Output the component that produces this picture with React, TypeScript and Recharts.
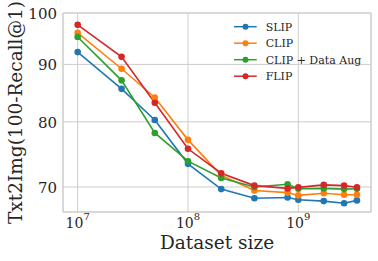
import React from "react";
import { LineChart, Line, XAxis, YAxis, CartesianGrid, ReferenceArea, Label } from "recharts";

const datasetSizes = [1e7, 2.5e7, 5e7, 1e8, 2e8, 4e8, 8e8, 1e9, 1.7e9, 2.6e9, 3.4e9];
const slip = [92.3, 85.6, 80.3, 73.4, 69.7, 68.4, 68.5, 68.2, 68.0, 67.7, 68.1];
const clip = [96.0, 89.2, 84.1, 77.1, 71.7, 69.5, 69.2, 68.8, 69.1, 68.9, 68.9];
const clipAug = [95.2, 87.1, 78.2, 73.8, 71.3, 70.0, 70.4, 69.75, 69.8, 69.7, 69.75];
const flip = [97.6, 91.4, 83.2, 75.7, 72.0, 70.2, 69.8, 69.95, 70.3, 70.2, 69.95];

const xTicks = [1e7, 1e8, 1e9];
const yTicks = [70, 80, 90, 100];
const xDomain = [7.36e6, 4.56e9];
const yDomain = [66.5, 100];

const series = [
  { key: "slip", name: "SLIP", color: "#1f77b4", values: slip },
  { key: "clip", name: "CLIP", color: "#ff7f0e", values: clip },
  { key: "clipAug", name: "CLIP + Data Aug", color: "#2ca02c", values: clipAug },
  { key: "flip", name: "FLIP", color: "#d62728", values: flip },
];

const data = datasetSizes.map((x, i) => {
  const row: any = { x };
  series.forEach((s) => {
    row[s.key] = s.values[i];
  });
  return row;
});

const FONT = "'DejaVu Serif', serif";
const TEXT = "#262626";
const GRID = "#cccccc";

const XTick = (props: any) => {
  const { x, y, payload } = props;
  const exp = Math.round(Math.log10(payload.value));
  return (
    <text x={x} y={y + 16} textAnchor="middle" fontFamily={FONT} fontSize={14} fill={TEXT}>
      <tspan>10</tspan>
      <tspan dy={-8} fontSize={10}>{exp}</tspan>
    </text>
  );
};

const YTick = (props: any) => {
  const { x, y, payload } = props;
  return (
    <text x={x} y={y + 6} textAnchor="end" fontFamily={FONT} fontSize={15} fill={TEXT}>
      {payload.value}
    </text>
  );
};

const LegendBox = () => (
  <svg width={145} height={72} style={{ position: "absolute", left: 228, top: 17, pointerEvents: "none" }}>
    {series.map((s, i) => {
      const cy = 9.7 + 16.5 * i;
      return (
        <g key={s.key}>
          <line x1={6} x2={28.7} y1={cy} y2={cy} stroke={s.color} strokeWidth={1.5} />
          <circle cx={17.5} cy={cy} r={3} fill={s.color} />
          <text x={37.7} y={cy + 4} fontFamily={FONT} fontSize={11} fill={TEXT}>
            {s.name}
          </text>
        </g>
      );
    })}
  </svg>
);

export default function App() {
  return (
    <div style={{ position: "absolute", left: 0, top: 0, width: 378, height: 261, background: "#fff" }}>
      <LineChart width={378} height={261} data={data} margin={{ top: 13, right: 7, bottom: 0, left: 0 }}>
        <CartesianGrid stroke={GRID} strokeWidth={1} />
        <ReferenceArea
          x1={xDomain[0]}
          x2={xDomain[1]}
          y1={yDomain[0]}
          y2={yDomain[1]}
          fill="none"
          stroke={GRID}
          strokeWidth={1}
          ifOverflow="visible"
        />
        <XAxis
          dataKey="x"
          type="number"
          scale="log"
          domain={xDomain}
          ticks={xTicks}
          allowDataOverflow
          axisLine={false}
          tickLine={false}
          tickSize={0}
          tickMargin={0}
          height={49}
          tick={<XTick />}
        >
          <Label
            content={() => (
              <text x={217} y={249} textAnchor="middle" fontFamily={FONT} fontSize={18.5} fill={TEXT}>
                Dataset size
              </text>
            )}
          />
        </XAxis>
        <YAxis
          type="number"
          scale="log"
          domain={yDomain}
          ticks={yTicks}
          allowDataOverflow
          axisLine={false}
          tickLine={false}
          tickSize={0}
          tickMargin={6}
          width={63}
          tick={<YTick />}
        >
          <Label
            content={() => (
              <text
                x={0}
                y={0}
                transform="translate(21.5,112.5) rotate(-90)"
                textAnchor="middle"
                fontFamily={FONT}
                fontSize={18.5}
                fill={TEXT}
              >
                Txt2Img(100-Recall@1)
              </text>
            )}
          />
        </YAxis>
        {series.map((s) => (
          <Line
            key={s.key}
            dataKey={s.key}
            name={s.name}
            stroke={s.color}
            strokeWidth={1.6}
            dot={{ r: 3.3, fill: s.color, stroke: s.color, strokeWidth: 0 }}
            activeDot={false}
            isAnimationActive={false}
            connectNulls
          />
        ))}
      </LineChart>
      <LegendBox />
    </div>
  );
}
